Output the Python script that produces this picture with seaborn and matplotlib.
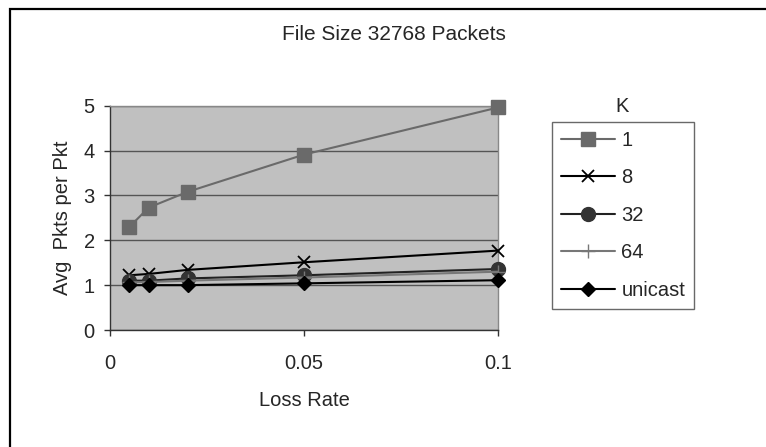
import matplotlib
matplotlib.use("Agg")
import matplotlib.pyplot as plt
import seaborn as sns
import pandas as pd
from matplotlib.lines import Line2D
from matplotlib.patches import Rectangle

sns.set_style("white")
plt.rcParams["font.family"] = ["Liberation Sans", "DejaVu Sans"]

# Data
loss_rate = [0.005, 0.01, 0.02, 0.05, 0.1]
k1 = [2.30, 2.73, 3.08, 3.91, 4.96]
k8 = [1.22, 1.25, 1.34, 1.51, 1.77]
k32 = [1.10, 1.10, 1.15, 1.22, 1.36]
k64 = [1.06, 1.07, 1.10, 1.17, 1.30]
unicast = [1.00, 1.00, 1.00, 1.04, 1.11]
series_names = ["1", "8", "32", "64", "unicast"]
series_values = [k1, k8, k32, k64, unicast]

title = "File Size 32768 Packets"
x_label = "Loss Rate"
y_label = "Avg  Pkts per Pkt"
legend_title = "K"

FS = 14.5

rows = []
for name, vals in zip(series_names, series_values):
    for x, y in zip(loss_rate, vals):
        rows.append({"Loss Rate": x, "Value": y, "K": name})
df = pd.DataFrame(rows)

styles = {
    "1": dict(color="#6a6a6a", marker="s", ms=10, mec="#6a6a6a", mfc="#6a6a6a", lw=1.5, mew=1),
    "8": dict(color="#000000", marker="x", ms=9, mec="#000000", mfc="none", lw=1.5, mew=1.3),
    "32": dict(color="#222222", marker="o", ms=10, mec="#333333", mfc="#333333", lw=1.5, mew=1),
    "64": dict(color="#777777", marker="+", ms=10, mec="#777777", mfc="#777777", lw=1.5, mew=1),
    "unicast": dict(color="#000000", marker="D", ms=7, mec="#000000", mfc="#000000", lw=1.5, mew=1),
}

fig = plt.figure(figsize=(7.66, 4.47), dpi=100)
# chart frame
fig.patches.append(Rectangle((10 / 766, -0.05), 1.1, 1 - 9 / 447 + 0.05, transform=fig.transFigure,
                             fill=False, edgecolor="black", lw=1.6, zorder=0))

ax = fig.add_axes([110 / 766, 1 - 330 / 447, 388 / 766, (330 - 105.7) / 447])
ax.set_facecolor("#c0c0c0")

for name in series_names:
    st = styles[name]
    sub = df[df["K"] == name]
    sns.lineplot(data=sub, x="Loss Rate", y="Value", ax=ax, color=st["color"], lw=st["lw"],
                 marker=st["marker"], markersize=st["ms"], markeredgecolor=st["mec"],
                 markerfacecolor=st["mfc"], markeredgewidth=st["mew"], legend=False,
                 clip_on=False, zorder=3)

ax.set_xlim(0, 0.1)
ax.set_ylim(0, 5)
ax.set_xticks([0, 0.05, 0.1])
ax.set_xticklabels(["0", "0.05", "0.1"])
ax.set_yticks([0, 1, 2, 3, 4, 5])
ax.yaxis.grid(True, color="#555555", lw=1)
ax.xaxis.grid(False)
ax.set_axisbelow(True)
for side in ["left", "bottom"]:
    ax.spines[side].set_color("#333333")
    ax.spines[side].set_linewidth(1)
for side in ["right", "top"]:
    ax.spines[side].set_color("#888888")
    ax.spines[side].set_linewidth(1)
ax.tick_params(axis="both", direction="out", length=4, width=1, color="#333333",
               labelsize=FS, bottom=True, left=True)
ax.tick_params(axis="x", pad=13)
ax.tick_params(axis="y", pad=7)
ax.set_xlabel(x_label, fontsize=FS)
ax.set_ylabel(y_label, fontsize=FS)
ax.xaxis.label.set_va("center")
ax.yaxis.label.set_va("center")
ax.xaxis.set_label_coords(0.5, -(400 - 330) / 224.3)
ax.yaxis.set_label_coords((63 - 110) / 388, 0.5)

fig.text(394 / 766, 1 - 35 / 447, title, ha="center", va="center", fontsize=15)

handles = []
for name in series_names:
    st = styles[name]
    handles.append(Line2D([], [], color=st["color"], lw=st["lw"], marker=st["marker"],
                          markersize=st["ms"], markeredgecolor=st["mec"],
                          markerfacecolor=st["mfc"], markeredgewidth=st["mew"]))
leg = fig.legend(handles, series_names, loc="upper left",
                 bbox_to_anchor=(552 / 766, 1 - 122 / 447), borderaxespad=0,
                 fontsize=FS, frameon=True, fancybox=False, handlelength=2.7,
                 handletextpad=0.3, labelspacing=0.915, borderpad=0.45)
leg.get_frame().set_edgecolor("#444444")
leg.get_frame().set_linewidth(1)
fig.text(622 / 766, 1 - 107 / 447, legend_title, ha="center", va="center", fontsize=FS)

fig.savefig("out.png", dpi=100)
